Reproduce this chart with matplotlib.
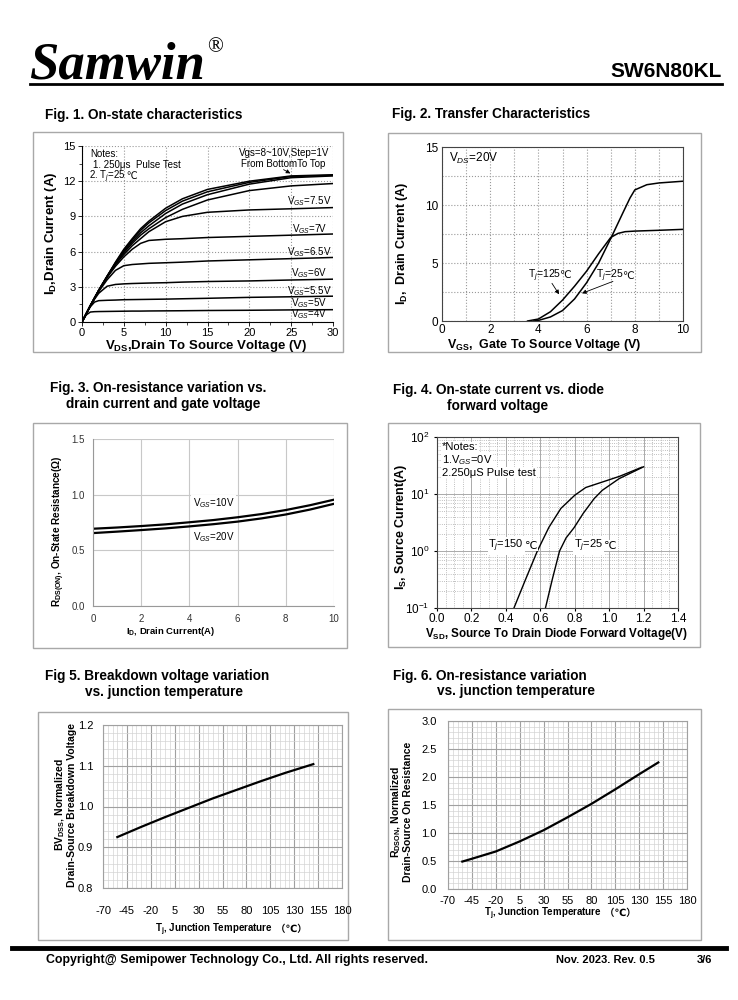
import numpy as np
import matplotlib
matplotlib.use("Agg")
import matplotlib.pyplot as plt
from matplotlib.ticker import MultipleLocator, LogLocator, NullFormatter, FormatStrFormatter
from matplotlib.transforms import offset_copy

plt.rcParams['font.family'] = ['Liberation Sans', 'DejaVu Sans', 'Noto Sans CJK SC']
plt.rcParams['mathtext.fontset'] = 'custom'
plt.rcParams['mathtext.rm'] = 'Liberation Sans'
plt.rcParams['mathtext.it'] = 'Liberation Sans:italic'
plt.rcParams['mathtext.bf'] = 'Liberation Sans:bold'
plt.rcParams['axes.unicode_minus'] = False

# ---- Fig 1: on-state characteristics ----
vds = [0, 0.5, 1, 1.5, 2, 3, 4, 5, 6, 7, 8, 10, 12, 15, 20, 25, 30]
id_10v = [0, 0.7, 1.4, 2.05, 2.7, 3.9, 5.1, 6.2, 7.1, 7.95, 8.6, 9.7, 10.5, 11.3, 12.0, 12.45, 12.55]
id_9v = [0, 0.7, 1.4, 2.05, 2.7, 3.9, 5.05, 6.1, 7.0, 7.8, 8.45, 9.5, 10.3, 11.1, 11.9, 12.4, 12.5]
id_8v = [0, 0.7, 1.4, 2.05, 2.7, 3.9, 5.0, 6.0, 6.85, 7.6, 8.2, 9.25, 10.05, 10.85, 11.75, 12.3, 12.45]
id_75v = [0, 0.7, 1.4, 2.05, 2.7, 3.85, 4.95, 5.9, 6.7, 7.4, 7.95, 8.9, 9.6, 10.4, 11.2, 11.6, 11.8]
id_7v = [0, 0.7, 1.4, 2.05, 2.7, 3.85, 4.9, 5.75, 6.5, 7.1, 7.7, 8.55, 9.0, 9.35, 9.55, 9.65, 9.75]
id_65v = [0, 0.7, 1.4, 2.05, 2.65, 3.8, 4.75, 5.55, 6.2, 6.7, 6.95, 7.05, 7.1, 7.2, 7.3, 7.4, 7.5]
id_6v = [0, 0.7, 1.4, 2.0, 2.6, 3.6, 4.4, 4.8, 4.9, 4.95, 5.0, 5.05, 5.1, 5.2, 5.3, 5.4, 5.5]
id_55v = [0, 0.7, 1.35, 1.95, 2.45, 3.05, 3.2, 3.25, 3.28, 3.3, 3.32, 3.35, 3.4, 3.45, 3.5, 3.58, 3.65]
id_5v = [0, 0.7, 1.3, 1.7, 1.82, 1.85, 1.87, 1.9, 1.91, 1.92, 1.93, 1.95, 1.98, 2.02, 2.1, 2.15, 2.2]
id_4v = [0, 0.6, 0.85, 0.88, 0.89, 0.9, 0.91, 0.92, 0.93, 0.93, 0.94, 0.95, 0.96, 0.98, 1.0, 1.03, 1.05]
fig1_curves = [id_10v, id_9v, id_8v, id_75v, id_7v, id_65v, id_6v, id_55v, id_5v, id_4v]
fig1_labels = ["7.5V", "7V", "6.5V", "6V", "5.5V", "5V", "4V"]
fig1_label_y = [10.3, 7.95, 5.97, 4.18, 2.64, 1.62, 0.65]

# ---- Fig 2: transfer characteristics ----
vgs_25 = [3.8, 4.0, 4.5, 5.0, 5.5, 6.0, 6.5, 7.0, 7.5, 7.8, 8.0, 8.5, 9.0, 10.0]
id_25 = [0, 0.05, 0.35, 0.9, 1.9, 3.3, 5.0, 7.1, 9.3, 10.6, 11.3, 11.75, 11.9, 12.05]
vgs_125 = [3.55, 4.0, 4.5, 5.0, 5.5, 6.0, 6.5, 7.0, 7.3, 7.6, 8.0, 9.0, 10.0]
id_125 = [0, 0.17, 0.8, 1.8, 3.0, 4.3, 5.8, 7.2, 7.55, 7.7, 7.75, 7.82, 7.9]

# ---- Fig 3: on-resistance vs drain current ----
id3 = [0, 1, 2, 3, 4, 5, 6, 7, 8, 9, 10]
r_10v = [0.694, 0.705, 0.718, 0.733, 0.752, 0.772, 0.797, 0.826, 0.862, 0.905, 0.955]
r_20v = [0.655, 0.668, 0.682, 0.697, 0.715, 0.735, 0.758, 0.787, 0.822, 0.866, 0.918]

# ---- Fig 4: diode forward voltage ----
vsd_150 = [0.447, 0.515, 0.583, 0.65, 0.72, 0.8, 0.864, 0.96, 1.06, 1.19]
is_150 = [0.1, 0.32, 1.0, 2.6, 5.6, 9.5, 13.0, 16.2, 20.4, 29.5]
vsd_25 = [0.63, 0.67, 0.712, 0.75, 0.796, 0.85, 0.913, 0.96, 1.058, 1.2]
is_25 = [0.1, 0.32, 1.0, 1.7, 2.56, 4.6, 8.3, 11.6, 18.6, 30]

# ---- Fig 5 / Fig 6: temperature ----
tj5 = [-55, -30, -5, 20, 45, 70, 95, 120, 150]
bv_norm = [0.925, 0.95, 0.974, 0.997, 1.02, 1.041, 1.062, 1.082, 1.104]
tj6 = [-55, -45, -20, 5, 30, 55, 80, 105, 130, 150]
rds_norm = [0.49, 0.54, 0.67, 0.85, 1.05, 1.28, 1.52, 1.78, 2.05, 2.26]
temp_ticks = [-70, -45, -20, 5, 30, 55, 80, 105, 130, 155, 180]

W, H = 738, 1000
fig = plt.figure(figsize=(W / 100, H / 100), dpi=100)
fig.patch.set_facecolor("white")

page = fig.add_axes([0, 0, 1, 1], zorder=0)
page.set_xlim(0, W); page.set_ylim(H, 0); page.axis("off")


def ax_at(l, t, r, b):
    return fig.add_axes([l / W, 1 - b / H, (r - l) / W, (b - t) / H], zorder=2)


def box(l, t, r, b):
    page.add_patch(plt.Rectangle((l, t), r - l, b - t, fill=False, ec="#a8a8a8", lw=1.0))


def split_text(target, x, y, left, right, shift=-1.5, **kw):
    # mathtext part ends at x, plain part (with ℃ etc.) starts at x, same baseline
    target.text(x, y, left, ha="right", va="baseline", zorder=4, **kw)
    tr = offset_copy(target.transData, fig=fig, x=shift, y=0, units="points")
    target.text(x, y, right, ha="left", va="baseline", transform=tr, zorder=5, **kw)


# header / footer
page.text(29, 79, "Samwin", family="Liberation Serif", weight="bold", style="italic",
          fontsize=38, va="baseline")
page.text(207, 52, "®", family="Liberation Serif", fontsize=15, va="baseline")
page.text(722, 77, "SW6N80KL", weight="bold", fontsize=15, ha="right", va="baseline")
page.plot([30, 722], [84, 84], color="black", lw=2.0)
page.plot([12, 726], [948, 948], color="black", lw=3.5)
page.text(46, 960, "Copyright@ Semipower Technology Co., Ltd. All rights reserved.",
          weight="bold", fontsize=8.9, va="center")
page.text(556, 960, "Nov. 2023. Rev. 0.5", weight="bold", fontsize=8, va="center")
page.text(697, 960, "3/6", weight="bold", fontsize=8, va="center")

tkw = dict(weight="bold", fontsize=9.8, va="center")
page.text(45, 115, "Fig. 1. On-state characteristics", **tkw)
page.text(392, 114, "Fig. 2. Transfer Characteristics", **tkw)
page.text(50, 388, "Fig. 3. On-resistance variation vs.", **tkw)
page.text(66, 404, "drain current and gate voltage", **tkw)
page.text(393, 390, "Fig. 4. On-state current vs. diode", **tkw)
page.text(447, 406, "forward voltage", **tkw)
page.text(45, 676, "Fig 5. Breakdown voltage variation", **tkw)
page.text(85, 692, "vs. junction temperature", **tkw)
page.text(393, 676, "Fig. 6. On-resistance variation", **tkw)
page.text(437, 691, "vs. junction temperature", **tkw)

for bx in [(33, 132, 343, 352), (388, 133, 701, 352), (33, 423, 347, 648),
           (388, 423, 700, 647), (38, 712, 348, 940), (388, 709, 701, 940)]:
    box(*bx)

arrow_kw = dict(arrowstyle="-|>", lw=0.6, color="black", mutation_scale=6)

# ---------- Fig 1 ----------
ax1 = ax_at(82, 146, 333, 322)
for c in fig1_curves:
    ax1.plot(vds, c, color="black", lw=1.1)
ax1.set_xlim(0, 30); ax1.set_ylim(0, 15)
ax1.set_xticks(range(0, 31, 5)); ax1.set_yticks(range(0, 16, 3))
ax1.xaxis.set_minor_locator(MultipleLocator(2.5)); ax1.yaxis.set_minor_locator(MultipleLocator(1.5))
ax1.grid(True, which="major", ls=":", color="#999999", lw=0.8)
for s in ["top", "right"]:
    ax1.spines[s].set_visible(False)
ax1.tick_params(labelsize=8, length=3, width=0.6, pad=1.5)
ax1.tick_params(axis="x", pad=1)
ax1.tick_params(which="minor", length=2, width=0.5)
for lab, yy in zip(fig1_labels, fig1_label_y):
    ax1.text(27.2, yy, "V$_{GS}$=" + lab, fontsize=7, ha="center", va="center")
ax1.text(1.0, 14.3, "Notes:", fontsize=7, va="center")
ax1.text(1.3, 13.35, "1. 250μs  Pulse Test", fontsize=7, va="center")
split_text(ax1, 5.3, 12.2, "2. T$_j$=25", " ℃", fontsize=7)
ax1.text(24.2, 14.4, "Vgs=8~10V,Step=1V", fontsize=7, ha="center", va="center")
ax1.text(24.0, 13.5, "From BottomTo Top", fontsize=7, ha="center", va="center")
ax1.annotate("", xy=(25.2, 12.55), xytext=(23.8, 13.1), arrowprops=arrow_kw)
page.text(51, 233, "I$_\\mathbf{D}$,Drain Current (A)", rotation=90, ha="center", va="center",
          weight="bold", fontsize=9.5)
page.text(206, 346, "V$_\\mathbf{DS}$,Drain To Source Voltage (V)", ha="center", va="center",
          weight="bold", fontsize=9.5)

# ---------- Fig 2 ----------
ax2 = ax_at(442, 147, 683, 321)
ax2.plot(vgs_25, id_25, color="black", lw=1.1)
ax2.plot(vgs_125, id_125, color="black", lw=1.1)
ax2.set_xlim(0, 10); ax2.set_ylim(0, 15)
ax2.set_xticks(range(0, 11, 2)); ax2.set_yticks([0, 5, 10, 15])
ax2.xaxis.set_minor_locator(MultipleLocator(1)); ax2.yaxis.set_minor_locator(MultipleLocator(2.5))
ax2.grid(True, which="both", ls=":", color="#999999", lw=0.8)
for s in ax2.spines.values():
    s.set_color("#444444"); s.set_linewidth(0.8)
ax2.tick_params(labelsize=8.5, length=0, pad=3)
ax2.tick_params(axis="x", pad=2)
ax2.tick_params(which="minor", length=0)
ax2.text(0.3, 14.0, "V$_{DS}$=20V", fontsize=8.5, va="center")
split_text(ax2, 4.95, 3.7, "T$_j$=125", "℃", fontsize=7.5)
split_text(ax2, 7.55, 3.65, "T$_j$=25", "℃", fontsize=7.5)
ax2.annotate("", xy=(4.92, 2.1), xytext=(4.5, 3.45), arrowprops=arrow_kw)
ax2.annotate("", xy=(5.7, 2.3), xytext=(7.2, 3.5), arrowprops=arrow_kw)
page.text(402, 243, "I$_\\mathbf{D}$,  Drain Current (A)", rotation=90, ha="center", va="center",
          weight="bold", fontsize=9)
page.text(544, 345, "V$_\\mathbf{GS}$,  Gate To Source Voltage (V)", ha="center", va="center",
          weight="bold", fontsize=9)

# ---------- Fig 3 ----------
ax3 = ax_at(93, 439, 334, 606)
ax3.plot(id3, r_10v, color="black", lw=1.6)
ax3.plot(id3, r_20v, color="black", lw=1.6)
ax3.set_xlim(0, 10); ax3.set_ylim(0, 1.5)
ax3.set_xticks(range(0, 11, 2)); ax3.set_yticks([0, 0.5, 1.0, 1.5])
ax3.yaxis.set_major_formatter(FormatStrFormatter("%.1f"))
ax3.grid(True, color="#c8c8c8", lw=0.8)
for s in ["top", "right"]:
    ax3.spines[s].set_visible(False)
for s in ["left", "bottom"]:
    ax3.spines[s].set_color("#999999")
ax3.tick_params(labelsize=7, length=0, pad=6, labelcolor="#333333")
ax3.text(5.0, 0.92, "V$_{GS}$=10V", fontsize=7, ha="center", va="center",
         bbox=dict(fc="white", ec="none", pad=1))
ax3.text(5.0, 0.62, "V$_{GS}$=20V", fontsize=7, ha="center", va="center",
         bbox=dict(fc="white", ec="none", pad=1))
page.text(59, 531, "R$_\\mathbf{DS(ON)}$, On-State Resistance(Ω)", rotation=90, ha="center",
          va="center", weight="bold", fontsize=7.2)
page.text(170, 631, "I$_\\mathbf{D}$, Drain Current(A)", ha="center", va="center",
          weight="bold", fontsize=6.8)

# ---------- Fig 4 ----------
ax4 = ax_at(437, 437, 678, 608)
ax4.plot(vsd_150, is_150, color="black", lw=1.0)
ax4.plot(vsd_25, is_25, color="black", lw=1.0)
ax4.set_yscale("log")
ax4.set_xlim(0, 1.4); ax4.set_ylim(0.1, 100)
ax4.set_xticks(np.arange(0, 1.41, 0.2))
ax4.xaxis.set_major_formatter(FormatStrFormatter("%.1f"))
ax4.xaxis.set_minor_locator(MultipleLocator(0.05))
ax4.yaxis.set_minor_locator(LogLocator(base=10, subs=np.arange(2, 10)))
ax4.yaxis.set_minor_formatter(NullFormatter())
ax4.grid(True, which="major", color="#aaaaaa", lw=0.7)
ax4.grid(True, which="minor", ls=":", color="#aaaaaa", lw=0.6)
for s in ax4.spines.values():
    s.set_color("#444444"); s.set_linewidth(0.8)
ax4.tick_params(labelsize=8.5, length=2)
ax4.tick_params(axis="x", pad=1.5)
ax4.tick_params(which="minor", length=0)
wb = dict(fc="white", ec="none", pad=0.5)
ax4.text(0.03, 66, "*Notes:", fontsize=8, va="center", bbox=wb)
ax4.text(0.03, 39, "1.V$_{GS}$=0V", fontsize=8, va="center", bbox=wb)
ax4.text(0.03, 23.6, "2.250μS Pulse test", fontsize=8, va="center", bbox=wb)
split_text(ax4, 0.505, 1.1, "T$_j$=150", "℃", shift=0.6, fontsize=8, bbox=wb)
split_text(ax4, 0.965, 1.1, "T$_j$=25", "℃", shift=0.6, fontsize=8, bbox=wb)
page.text(401, 527, "I$_\\mathbf{S}$, Source Current(A)", rotation=90, ha="center", va="center",
          weight="bold", fontsize=9)
page.text(556, 634, "V$_\\mathbf{SD}$, Source To Drain Diode Forward Voltage(V)", ha="center",
          va="center", weight="bold", fontsize=8.4)


# ---------- Fig 5 / Fig 6 ----------
def temp_axes(a, ymaj, ymin_step, xpad, ypad):
    a.set_xlim(-70, 180)
    a.set_xticks(temp_ticks)
    a.xaxis.set_minor_locator(MultipleLocator(5))
    a.yaxis.set_major_locator(MultipleLocator(ymaj))
    a.yaxis.set_minor_locator(MultipleLocator(ymin_step))
    a.yaxis.set_major_formatter(FormatStrFormatter("%.1f"))
    a.grid(True, which="major", color="#a0a0a0", lw=0.8)
    a.grid(True, which="minor", color="#d4d4d4", lw=0.5)
    a.set_axisbelow(True)
    for s in a.spines.values():
        s.set_color("#a0a0a0"); s.set_linewidth(0.8)
    a.tick_params(axis="x", labelsize=8, length=0, pad=xpad)
    a.tick_params(axis="y", labelsize=8, length=0, pad=ypad)
    a.tick_params(which="minor", length=0)


ax5 = ax_at(103, 725, 342, 888)
ax5.plot(tj5, bv_norm, color="black", lw=1.6)
ax5.set_ylim(0.8, 1.2)
temp_axes(ax5, 0.1, 0.02, 13, 7)
page.text(65, 805, "BV$_\\mathbf{DSS}$, Normalized\nDrain-Source Breakdown Voltage", rotation=90,
          ha="center", va="center", weight="bold", fontsize=7.5, linespacing=1.0)
split_text(page, 273, 932, "T$_\\mathbf{j}$, Junction Temperature", " （℃）",
           shift=0, weight="bold", fontsize=7)

ax6 = ax_at(448, 721, 687, 889)
ax6.plot(tj6, rds_norm, color="black", lw=1.6)
ax6.set_ylim(0, 3.0)
temp_axes(ax6, 0.5, 0.1, 5, 8)
page.text(401, 812, "R$_\\mathbf{DSON}$, Normalized\nDrain-Source On Resistance", rotation=90,
          ha="center", va="center", weight="bold", fontsize=7.5, linespacing=1.0)
split_text(page, 602, 916, "T$_\\mathbf{j}$, Junction Temperature", " （℃）",
           shift=0, weight="bold", fontsize=7)

fig.savefig("out.png", dpi=100, facecolor="white")
